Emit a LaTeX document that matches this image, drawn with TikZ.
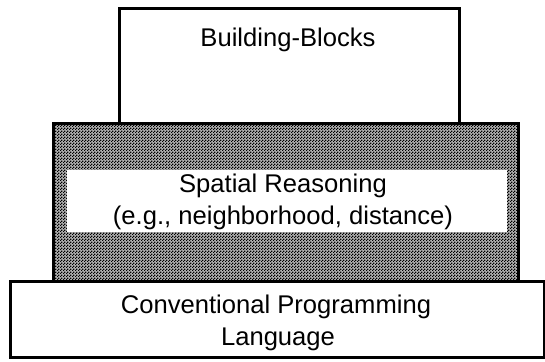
\documentclass[tikz,border=0pt]{standalone}
\usepackage{fontspec}
\setmainfont{Liberation Sans}
\usetikzlibrary{patterns}
\pgfdeclarepatternformonly{finecheck}{\pgfpointorigin}{\pgfpoint{3pt}{3pt}}{\pgfpoint{3pt}{3pt}}{%
  \pgfpathrectangle{\pgfpointorigin}{\pgfpoint{1.5pt}{1.5pt}}%
  \pgfpathrectangle{\pgfpoint{1.5pt}{1.5pt}}{\pgfpoint{1.5pt}{1.5pt}}%
  \pgfusepath{fill}}
\tikzset{
  blockbox/.style={draw=black, line width=2.6pt, fill=white, inner sep=0pt, anchor=south west},
  patbox/.style={draw=black, line width=2.6pt, fill=black!30, postaction={pattern=finecheck, pattern color=black}, inner sep=0pt, anchor=south west},
  innerbox/.style={fill=white, draw=none, inner sep=0pt, anchor=south west},
  lbl/.style={font=\fontsize{25.6}{30}\selectfont, inner sep=0pt, anchor=base}
}
\begin{document}
\begin{tikzpicture}[x=1pt,y=1pt]
\useasboundingbox (0,0) rectangle (545,361);
% middle patterned layer
\node[patbox, minimum width=465pt, minimum height=158pt] (mid) at (52,78) {};
\node[innerbox, minimum width=440pt, minimum height=62pt] (inner) at (67,129) {};
% top layer
\node[blockbox, minimum width=340pt, minimum height=115pt] (top) at (118,236) {};
% bottom layer
\node[blockbox, minimum width=534pt, minimum height=76pt] (bot) at (9,2) {};
% labels
\node[lbl] (tl) at (288,314) {Building-Blocks};
\node[lbl] (m1) at (283,168) {Spatial Reasoning};
\node[lbl] (m2) at (283,136) {(e.g., neighborhood, distance)};
\node[lbl] (b1) at (276,48) {Conventional Programming};
\node[lbl] (b2) at (278,16) {Language};
\end{tikzpicture}
\end{document}
